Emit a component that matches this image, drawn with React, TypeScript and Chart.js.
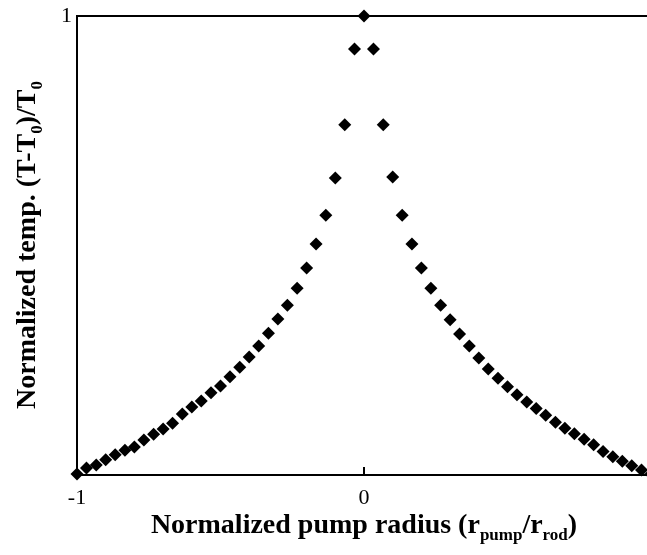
import React, { useEffect, useRef } from "react";
import { Chart, registerables } from "chart.js";

Chart.register(...registerables);

// Normalized pump radius (x) and normalized temperature (y)
const radiusValues: number[] = [
  -1.0, -0.967, -0.933, -0.9, -0.867, -0.833, -0.8, -0.767, -0.733, -0.7,
  -0.667, -0.633, -0.6, -0.567, -0.533, -0.5, -0.467, -0.433, -0.4, -0.367,
  -0.333, -0.3, -0.267, -0.233, -0.2, -0.167, -0.133, -0.1, -0.067, -0.033,
  0.0,
  0.033, 0.067, 0.1, 0.133, 0.167, 0.2, 0.233, 0.267, 0.3, 0.333,
  0.367, 0.4, 0.433, 0.467, 0.5, 0.533, 0.567, 0.6, 0.633, 0.667,
  0.7, 0.733, 0.767, 0.8, 0.833, 0.867, 0.9, 0.933, 0.967, 1.0,
];

const tempValues: number[] = [
  0.002, 0.015, 0.022, 0.033, 0.044, 0.054, 0.061, 0.076, 0.089, 0.1,
  0.113, 0.133, 0.148, 0.161, 0.179, 0.194, 0.214, 0.235, 0.257, 0.281,
  0.309, 0.34, 0.37, 0.407, 0.451, 0.503, 0.566, 0.647, 0.763, 0.928,
  1.0,
  0.928, 0.763, 0.649, 0.566, 0.503, 0.451, 0.407, 0.37, 0.338, 0.307,
  0.281, 0.255, 0.231, 0.211, 0.192, 0.175, 0.159, 0.145, 0.13, 0.115,
  0.102, 0.09, 0.078, 0.066, 0.051, 0.04, 0.03, 0.02, 0.011, 0.002,
];

const xTickValues: number[] = [-1, 0];
const yTickValues: number[] = [1];

const xTitleRuns = [
  { t: "Normalized pump radius (r", sub: false },
  { t: "pump", sub: true },
  { t: "/r", sub: false },
  { t: "rod", sub: true },
  { t: ")", sub: false },
];
const yTitleRuns = [
  { t: "Normalized temp. (T-T", sub: false },
  { t: "0", sub: true },
  { t: ")/T", sub: false },
  { t: "0", sub: true },
];

const SERIF = "'Liberation Serif', 'Times New Roman', serif";

function drawRuns(
  ctx: CanvasRenderingContext2D,
  runs: { t: string; sub: boolean }[],
  cx: number,
  cy: number,
  size: number,
  subSize: number
) {
  const fonts = runs.map((r) => `bold ${r.sub ? subSize : size}px ${SERIF}`);
  let total = 0;
  const widths = runs.map((r, i) => {
    ctx.font = fonts[i];
    const w = ctx.measureText(r.t).width;
    total += w;
    return w;
  });
  let x = cx - total / 2;
  ctx.textBaseline = "alphabetic";
  ctx.textAlign = "left";
  runs.forEach((r, i) => {
    ctx.font = fonts[i];
    ctx.fillText(r.t, x, cy + (r.sub ? size * 0.25 : 0));
    x += widths[i];
  });
}

const decorPlugin = {
  id: "decor",
  afterDraw(chart: any) {
    const { ctx, chartArea, scales } = chart;
    ctx.save();
    ctx.strokeStyle = "#000";
    ctx.lineWidth = 2;
    // top frame line
    ctx.beginPath();
    ctx.moveTo(chartArea.left - 1, chartArea.top);
    ctx.lineTo(chartArea.right + 20, chartArea.top);
    ctx.stroke();
    // inward tick at x = 0
    const x0 = scales.x.getPixelForValue(0);
    ctx.beginPath();
    ctx.moveTo(x0, chartArea.bottom);
    ctx.lineTo(x0, chartArea.bottom - 8);
    ctx.stroke();
    ctx.fillStyle = "#000";
    // x title
    drawRuns(ctx, xTitleRuns, 364, 533, 28, 17);
    // y title
    ctx.translate(35, 245);
    ctx.rotate(-Math.PI / 2);
    drawRuns(ctx, yTitleRuns, 0, 0, 28, 17);
    ctx.restore();
  },
};

export default function App() {
  const ref = useRef<HTMLCanvasElement | null>(null);
  useEffect(() => {
    if (!ref.current) return;
    const data = radiusValues.map((x, i) => ({ x, y: tempValues[i] }));
    const chart = new Chart(ref.current, {
      type: "scatter",
      data: {
        datasets: [
          {
            data,
            pointStyle: "rectRot",
            pointRadius: 6.5,
            backgroundColor: "#000",
            borderColor: "#000",
            borderWidth: 0,
            clip: false,
          } as any,
        ],
      },
      options: {
        animation: false,
        responsive: false,
        devicePixelRatio: 1,
        layout: { padding: { top: 16, right: 19, left: 0, bottom: 0 } },
        plugins: {
          legend: { display: false },
          tooltip: { enabled: false },
        },
        scales: {
          x: {
            type: "linear",
            min: -1,
            max: 1,
            afterFit: (s: any) => {
              s.height = 80;
              s.paddingLeft = 0;
              s.paddingRight = 0;
            },
            afterBuildTicks: (s: any) => {
              s.ticks = xTickValues.map((v) => ({ value: v }));
            },
            grid: { display: false, drawTicks: false },
            border: { display: true, color: "#000", width: 2 },
            ticks: {
              color: "#000",
              padding: 10,
              font: { family: SERIF, size: 22 },
              callback: (v: any) => String(v),
            },
          },
          y: {
            type: "linear",
            min: 0,
            max: 1,
            afterFit: (s: any) => {
              s.width = 77;
              s.paddingTop = 0;
              s.paddingBottom = 0;
            },
            afterBuildTicks: (s: any) => {
              s.ticks = yTickValues.map((v) => ({ value: v }));
            },
            grid: { display: false, drawTicks: false },
            border: { display: true, color: "#000", width: 2 },
            ticks: {
              color: "#000",
              padding: 5,
              font: { family: SERIF, size: 22 },
              callback: (v: any) => String(v),
            },
          },
        },
      } as any,
      plugins: [decorPlugin],
    });
    return () => chart.destroy();
  }, []);
  return (
    <div
      style={{
        position: "absolute",
        left: 0,
        top: 0,
        width: 647,
        height: 555,
        overflow: "hidden",
        background: "#fff",
      }}
    >
      <canvas ref={ref} width={670} height={555} style={{ display: "block" }} />
    </div>
  );
}
